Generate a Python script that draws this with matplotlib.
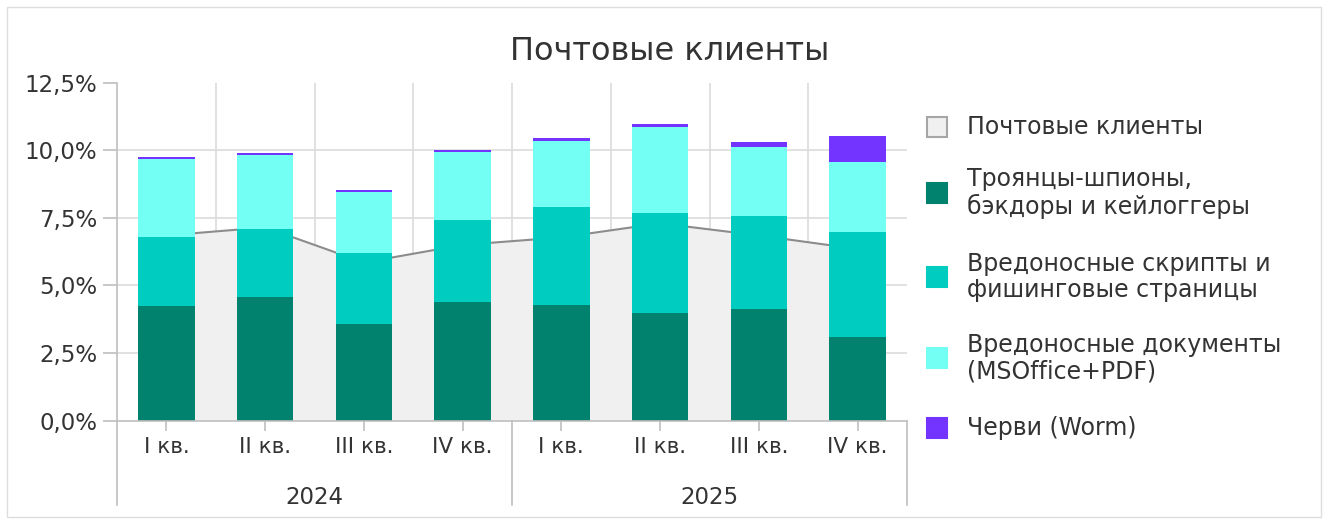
import numpy as np
import matplotlib.pyplot as plt
from matplotlib.patches import Rectangle

# Данные (доли, %)
quarters = ["I кв.", "II кв.", "III кв.", "IV кв.", "I кв.", "II кв.", "III кв.", "IV кв."]
years = ["2024", "2025"]
pochta = [6.85, 7.15, 5.85, 6.5, 6.78, 7.3, 6.85, 6.35]
troyan = [4.24, 4.56, 3.58, 4.39, 4.29, 3.99, 4.12, 3.11]
scripts = [2.54, 2.53, 2.61, 3.03, 3.60, 3.70, 3.45, 3.88]
docs = [2.89, 2.74, 2.28, 2.53, 2.47, 3.16, 2.56, 2.59]
worm = [0.07, 0.06, 0.06, 0.06, 0.11, 0.12, 0.17, 0.95]

labels = ["Почтовые клиенты",
          "Троянцы-шпионы,\nбэкдоры и кейлоггеры",
          "Вредоносные скрипты и\nфишинговые страницы",
          "Вредоносные документы\n(MSOffice+PDF)",
          "Черви (Worm)"]
colors = ["#F0F0F0", "#00826E", "#00CCBF", "#74FFF4", "#7334FF"]

text_c = "#333333"
grid_c = "#DCDCDC"
axis_c = "#BFBFBF"

W, H = 1325, 521
fig = plt.figure(figsize=(W / 100, H / 100), dpi=100)
ax = fig.add_axes([117 / W, (H - 420.7) / H, 790 / W, 338 / H])

x = np.arange(len(quarters))

# сетка
for v in [2.5, 5, 7.5, 10]:
    ax.axhline(v, color=grid_c, lw=1.2, zorder=0)
for b in np.arange(0.5, 7, 1):
    ax.vlines(b, 0, 12.5, color=grid_c, lw=1.2, zorder=0)

# область
ax.fill_between(x, pochta, color=colors[0], lw=0, zorder=1)
ax.plot(x, pochta, color="#8C8C8C", lw=1.5, zorder=1.5)

# столбцы
bottom = np.zeros(len(x))
for vals, c in zip([troyan, scripts, docs, worm], colors[1:]):
    ax.bar(x, vals, width=0.574, bottom=bottom, color=c, lw=0, zorder=2)
    bottom += np.array(vals)

ax.set_xlim(-0.5, 7.5)
ax.set_ylim(0, 12.5)
ax.set_yticks(np.arange(0, 12.6, 2.5))
ax.set_yticklabels([f"{v:.1f}%".replace(".", ",") for v in np.arange(0, 12.6, 2.5)])
ax.set_xticks(x)
ax.set_xticklabels(quarters)
ax.tick_params(axis="y", length=10, color=axis_c, width=1.2, pad=4, labelsize=16.5, labelcolor=text_c)
ax.tick_params(axis="x", length=7, color=axis_c, width=1.2, pad=5, labelsize=15.5, labelcolor=text_c)

for s in ["top", "right"]:
    ax.spines[s].set_visible(False)
for s in ["left", "bottom"]:
    ax.spines[s].set_color(axis_c)
    ax.spines[s].set_linewidth(1.2)

# разделители групп и годы
tr = ax.get_xaxis_transform()
for b in [-0.5, 3.5, 7.5]:
    ax.plot([b, b], [0, -0.25], color=axis_c, lw=1.2, transform=tr, clip_on=False)
for i, yr in enumerate(years):
    ax.text(1.5 + 4 * i, -0.226, yr, transform=tr, ha="center", va="center",
            fontsize=16.5, color=text_c)

fig.text(670 / W, 1 - 52 / H, "Почтовые клиенты", ha="center", va="center",
         fontsize=23, color=text_c)

# легенда
leg_y = [127, 193, 277, 358, 428]
for lab, c, yy in zip(labels, colors, leg_y):
    ec = "#A6A6A6" if c == colors[0] else c
    fig.patches.append(Rectangle((927 / W, 1 - (yy + 10) / H), 20 / W, 20 / H,
                                 transform=fig.transFigure, facecolor=c,
                                 edgecolor=ec, lw=1.5))
    fig.text(967 / W, 1 - yy / H, lab, ha="left", va="center", fontsize=17,
             color=text_c, linespacing=1.15)

# рамка
fig.patches.append(Rectangle((7 / W, 4 / H), 1314 / W, 510 / H, transform=fig.transFigure,
                             fill=False, edgecolor="#DDDDDD", lw=1))

fig.savefig("out.png", dpi=100)
